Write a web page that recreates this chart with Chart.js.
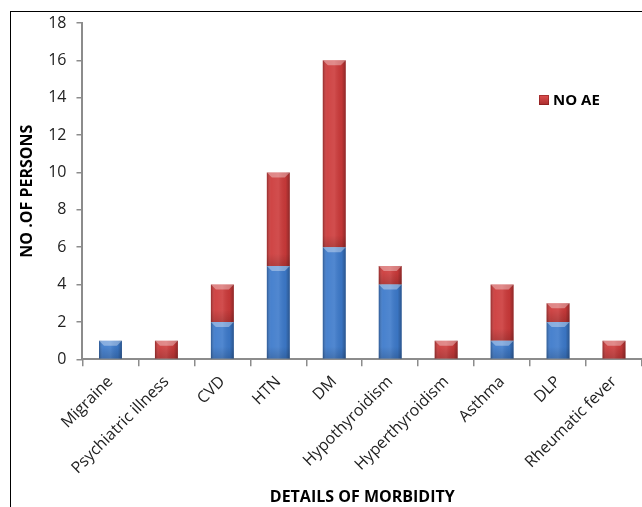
<!DOCTYPE html>
<html>
<head>
<meta charset="utf-8">
<script src="https://cdn.jsdelivr.net/npm/chart.js@4.4.1/dist/chart.umd.min.js"></script>
<style>
    html, body { margin: 0; padding: 0; background: #fff; overflow: hidden; }
    #frame { position: absolute; left: 10px; top: 11px; width: 700px; height: 560px; border: 1px solid #000; box-sizing: border-box; }
    #wrap { position: absolute; left: 0; top: 0; width: 642px; height: 507px; }
</style>
</head>
<body>
<div id="frame"></div>
<div id="wrap"><canvas id="chart"></canvas></div>
<script>
var categories = ["Migraine", "Psychiatric illness", "CVD", "HTN", "DM", "Hypothyroidism", "Hyperthyroidism", "Asthma", "DLP", "Rheumatic fever"];
var aeValues = [1, 0, 2, 5, 6, 4, 0, 1, 2, 0];
var noAeValues = [0, 1, 2, 5, 10, 1, 1, 3, 1, 1];
var yTicks = [0, 2, 4, 6, 8, 10, 12, 14, 16, 18];

var tickFont = { family: "'Open Sans', sans-serif", size: 16 };
var titleFont = { family: "'Open Sans', sans-serif", size: 16, weight: "bold" };

// bevelled look on each bar segment, drawn over the library's bar elements
var barShade = {
    id: "barShade",
    afterDatasetsDraw: function(chart) {
        var c = chart.ctx;
        chart.data.datasets.forEach(function(ds, i) {
            var meta = chart.getDatasetMeta(i);
            meta.data.forEach(function(bar, j) {
                if (!ds.data[j]) return;
                var left = bar.x - bar.width / 2, right = bar.x + bar.width / 2;
                var top = Math.min(bar.y, bar.base), bottom = Math.max(bar.y, bar.base);
                var g = c.createLinearGradient(left, 0, right, 0);
                g.addColorStop(0, "rgba(0,0,0,0.28)");
                g.addColorStop(0.18, "rgba(255,255,255,0.06)");
                g.addColorStop(0.5, "rgba(255,255,255,0.1)");
                g.addColorStop(0.82, "rgba(0,0,0,0.05)");
                g.addColorStop(1, "rgba(0,0,0,0.3)");
                c.save();
                c.fillStyle = g;
                c.fillRect(left, top, right - left, bottom - top);
                // top bevel
                c.fillStyle = "rgba(255,255,255,0.35)";
                c.beginPath();
                c.moveTo(left, top); c.lineTo(right, top);
                c.lineTo(right - 5, top + 5); c.lineTo(left + 5, top + 5);
                c.closePath(); c.fill();
                // bottom shade
                var vg = c.createLinearGradient(0, bottom - 12, 0, bottom);
                vg.addColorStop(0, "rgba(0,0,0,0)");
                vg.addColorStop(1, "rgba(0,0,0,0.15)");
                c.fillStyle = vg;
                c.fillRect(left, bottom - 12, right - left, 12);
                c.restore();
            });
        });
    }
};

// legend floating inside the plot, as in the original
var floatLegend = {
    id: "floatLegend",
    afterDraw: function(chart) {
        var c = chart.ctx;
        var ds = chart.data.datasets[1];
        c.save();
        var g = c.createLinearGradient(0, 95, 0, 105);
        g.addColorStop(0, "#e05050");
        g.addColorStop(1, "#a82c2c");
        c.fillStyle = g;
        c.fillRect(539, 95, 10, 10);
        c.strokeStyle = "rgba(120,20,20,0.5)";
        c.strokeRect(539.5, 95.5, 9, 9);
        c.fillStyle = "#000";
        c.font = "bold 15px 'Open Sans', sans-serif";
        c.textBaseline = "middle";
        c.fillText(ds.label, 553, 100.5);
        c.restore();
    }
};

new Chart(document.getElementById("chart"), {
    type: "bar",
    data: {
        labels: categories,
        datasets: [
            { label: "AE", data: aeValues, backgroundColor: "#3d7acb", borderWidth: 0, barPercentage: 0.82, categoryPercentage: 0.5 },
            { label: "NO AE", data: noAeValues, backgroundColor: "#cc3a3a", borderWidth: 0, barPercentage: 0.82, categoryPercentage: 0.5 }
        ]
    },
    options: {
        responsive: true,
        maintainAspectRatio: false,
        animation: false,
        layout: { padding: { top: 23, right: 0, left: 14, bottom: 0 } },
        plugins: { legend: { display: false }, tooltip: { enabled: false } },
        scales: {
            x: {
                stacked: true,
                grid: { display: true, drawOnChartArea: false, offset: true, tickLength: 7, color: "#8c8c8c", lineWidth: 1.5 },
                border: { color: "#8c8c8c", width: 2 },
                ticks: { color: "#222", font: tickFont, minRotation: 45, maxRotation: 45, padding: 6 },
                title: { display: true, text: "DETAILS OF MORBIDITY", color: "#000", font: titleFont, padding: { top: 4, bottom: 0 } }
            },
            y: {
                stacked: true,
                min: 0, max: 18,
                afterBuildTicks: function(axis) { axis.ticks = yTicks.map(function(v) { return { value: v }; }); },
                grid: { display: true, drawOnChartArea: false, tickLength: 6, color: "#8c8c8c", lineWidth: 1.5 },
                border: { color: "#8c8c8c", width: 2 },
                ticks: { color: "#222", font: { family: "'Open Sans', sans-serif", size: 16 }, padding: 10 },
                title: { display: true, text: "NO .OF PERSONS", color: "#000", font: titleFont, padding: { bottom: 1 } }
            }
        }
    },
    plugins: [barShade, floatLegend]
});
</script>
</body>
</html>
